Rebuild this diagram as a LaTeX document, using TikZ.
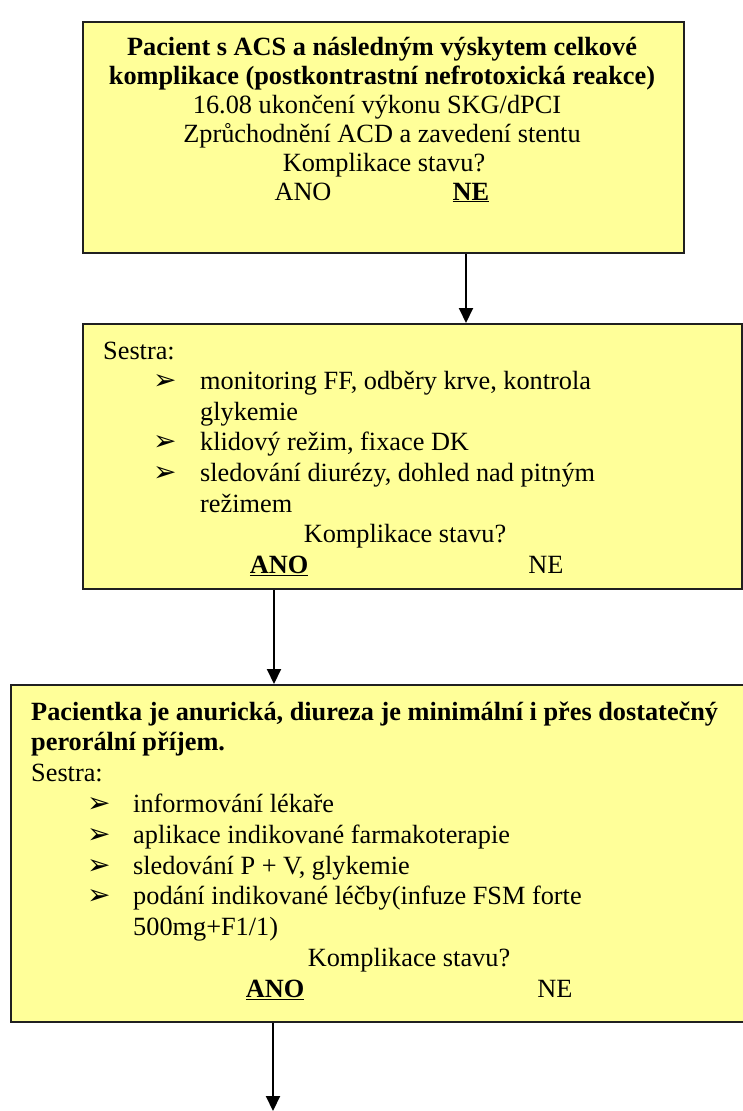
\documentclass[tikz,border=0pt]{standalone}
\usepackage{fontspec}
\setmainfont{Liberation Serif}
\newfontfamily\dejavu{DejaVu Sans}
\usetikzlibrary{arrows.meta}
\definecolor{boxyellow}{HTML}{FFFF99}
\definecolor{edgegray}{HTML}{202020}
\newcommand\bltsym{{\dejavu\fontsize{28}{28}\selectfont ➢}}
\begin{document}
\begin{tikzpicture}[x=1pt,y=-1pt,
  font=\fontsize{26.3}{30.7}\selectfont,
  box/.style={draw=edgegray, line width=2pt, fill=boxyellow, inner sep=0pt, anchor=north west},
  txt/.style={inner sep=0pt, anchor=base west},
  ctxt/.style={inner sep=0pt, anchor=base},
  bltnode/.style={inner sep=0pt, anchor=base west},
  arr/.style={line width=2pt, draw=black, -{Triangle[width=14pt,length=15pt]}}]
\useasboundingbox (0,0) rectangle (742,1111);
% boxes
\node[box, minimum width=601pt, minimum height=231pt] (b1) at (82,21) {};
\node[box, minimum width=659pt, minimum height=265pt] (b2) at (82,323) {};
\node[box, minimum width=760pt, minimum height=337pt] (b3) at (10,684) {};
% box 1 text
\node[ctxt] (b1l1) at (382,55) {\textbf{Pacient s ACS a následným výskytem celkové}};
\node[ctxt] (b1l2) at (382,84) {\textbf{komplikace (postkontrastní nefrotoxická reakce)}};
\node[ctxt] (b1l3) at (377,113) {16.08 ukončení výkonu SKG/dPCI};
\node[ctxt] (b1l4) at (382,142) {Zprůchodnění ACD a zavedení stentu};
\node[ctxt] (b1l5) at (384,171) {Komplikace stavu?};
\node[ctxt] (b1ano) at (303,200) {ANO};
\node[ctxt] (b1ne) at (471,200) {\underline{\textbf{NE}}};
% box 2 text
\node[txt] (b2l1) at (103,359) {Sestra:};
\node[bltnode] (b2p1) at (153,389.6) {\bltsym};
\node[txt] (b2l2) at (200,389.6) {monitoring FF, odběry krve, kontrola};
\node[txt] (b2l3) at (200,420.2) {glykemie};
\node[bltnode] (b2p2) at (153,450.8) {\bltsym};
\node[txt] (b2l4) at (200,450.8) {klidový režim, fixace DK};
\node[bltnode] (b2p3) at (153,481.4) {\bltsym};
\node[txt] (b2l5) at (200,481.4) {sledování diurézy, dohled nad pitným};
\node[txt] (b2l6) at (200,512) {režimem};
\node[ctxt] (b2l7) at (405,542.6) {Komplikace stavu?};
\node[ctxt] (b2ano) at (279,573.2) {\underline{\textbf{ANO}}};
\node[ctxt] (b2ne) at (546,573.2) {NE};
% box 3 text
\node[txt] (b3l1) at (31,720) {\textbf{Pacientka je anurická, diureza je minimální i přes dostatečný}};
\node[txt] (b3l2) at (31,750.8) {\textbf{perorální příjem.}};
\node[txt] (b3l3) at (31,781.6) {Sestra:};
\node[bltnode] (b3p1) at (87,812.4) {\bltsym};
\node[txt] (b3l4) at (133,812.4) {informování lékaře};
\node[bltnode] (b3p2) at (87,843.2) {\bltsym};
\node[txt] (b3l5) at (133,843.2) {aplikace indikované farmakoterapie};
\node[bltnode] (b3p3) at (87,874) {\bltsym};
\node[txt] (b3l6) at (133,874) {sledování P + V, glykemie};
\node[bltnode] (b3p4) at (87,904.8) {\bltsym};
\node[txt] (b3l7) at (133,904.8) {podání indikované léčby(infuze FSM forte};
\node[txt] (b3l8) at (133,935.6) {500mg+F1/1)};
\node[ctxt] (b3l9) at (409,966.4) {Komplikace stavu?};
\node[ctxt] (b3ano) at (275,997.2) {\underline{\textbf{ANO}}};
\node[ctxt] (b3ne) at (555,997.2) {NE};
% connectors
\coordinate (c1) at (466,0);
\coordinate (c2) at (274,0);
\coordinate (endp) at (273,1111);
\draw[arr] (b1.south -| c1) -- (b2.north -| c1);
\draw[arr] (b2.south -| c2) -- (b3.north -| c2);
\draw[arr] (b3.south -| endp) -- (endp);
\end{tikzpicture}
\end{document}
